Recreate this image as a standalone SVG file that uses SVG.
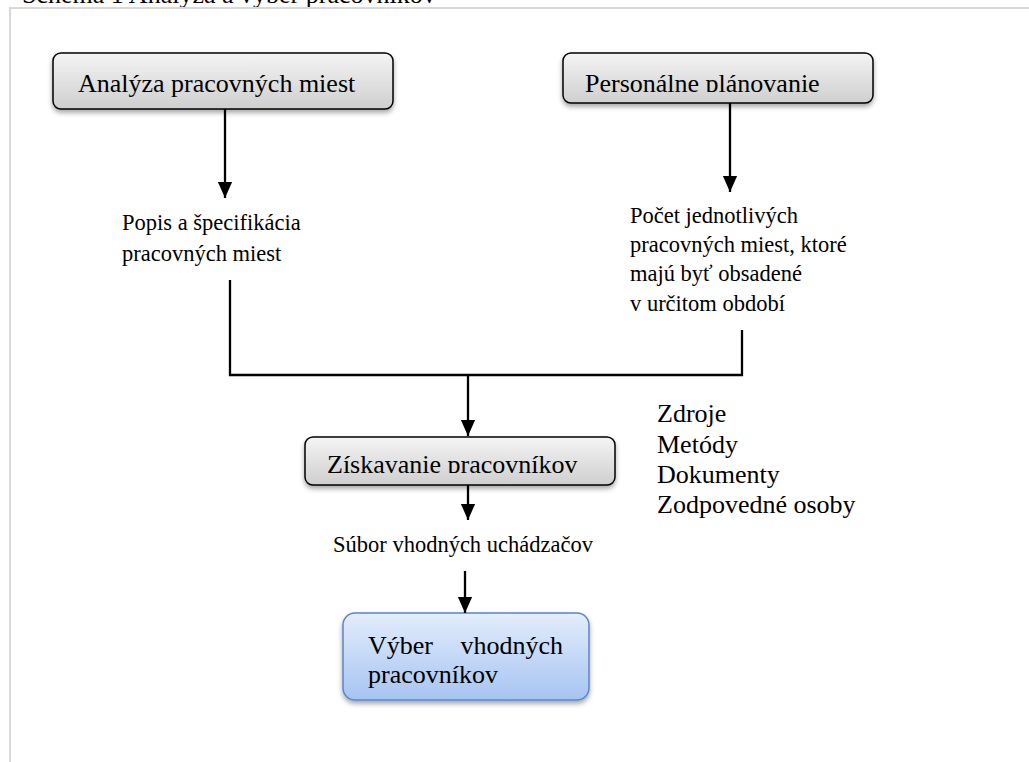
<svg xmlns="http://www.w3.org/2000/svg" width="1029" height="762" viewBox="0 0 1029 762" font-family="'Liberation Serif', 'Times New Roman', 'DejaVu Serif', serif">
<defs>
<linearGradient id="gGray" x1="0" y1="0" x2="0" y2="1">
<stop offset="0" stop-color="#f4f4f4"/>
<stop offset="1" stop-color="#cfcfcf"/>
</linearGradient>
<linearGradient id="gBlue" x1="0" y1="0" x2="0" y2="1">
<stop offset="0" stop-color="#e3edfc"/>
<stop offset="1" stop-color="#a6c4f2"/>
</linearGradient>
<filter id="sh" x="-10%" y="-20%" width="120%" height="160%">
<feDropShadow dx="0" dy="3" stdDeviation="2.5" flood-color="#000" flood-opacity="0.35"/>
</filter>
<marker id="ah" markerWidth="16" markerHeight="18" viewBox="0 0 18 16" refX="18" refY="8" orient="auto" markerUnits="userSpaceOnUse">
<path d="M0,0 L18,8 L0,16 z" fill="#000"/>
</marker>
<clipPath id="c2"><rect x="563" y="53" width="310" height="39"/></clipPath>
<clipPath id="c3"><rect x="305" y="437" width="310" height="36"/></clipPath>
</defs>
<style>
text{fill:#000}
.box{stroke:#000;stroke-width:1.5}
.big{font-size:26px}
.sm{font-size:22.5px}
.conn line,.conn polyline{stroke:#000;stroke-width:2.3;fill:none}
</style>
<rect x="0" y="0" width="1029" height="762" fill="#fff"/>
<text x="22" y="3" font-size="26">Schéma 1 Analýza a výber pracovníkov</text>
<path d="M10,762 V8 H1029" fill="none" stroke="#d9d9d9" stroke-width="2"/>

<g id="n1">
<rect class="box" x="53" y="53" width="340" height="56" rx="8" fill="url(#gGray)" filter="url(#sh)"/>
<text class="big" x="78" y="92">Analýza pracovných miest</text>
</g>
<g id="n2">
<rect class="box" x="563" y="53" width="310" height="50" rx="8" fill="url(#gGray)" filter="url(#sh)"/>
<text class="big" x="585" y="92" clip-path="url(#c2)">Personálne plánovanie</text>
</g>
<g id="t1">
<text class="sm" x="122" y="230">Popis a špecifikácia</text>
<text class="sm" x="122" y="261">pracovných miest</text>
</g>
<g id="t2">
<text class="sm" x="630" y="223">Počet jednotlivých</text>
<text class="sm" x="630" y="252">pracovných miest, ktoré</text>
<text class="sm" x="630" y="281">majú byť obsadené</text>
<text class="sm" x="630" y="311">v určitom období</text>
</g>
<g id="n3">
<rect class="box" x="305" y="437" width="310" height="48" rx="8" fill="url(#gGray)" filter="url(#sh)"/>
<text class="big" x="327" y="473" clip-path="url(#c3)">Získavanie pracovníkov</text>
</g>
<g id="t3">
<text class="sm" x="333" y="552">Súbor vhodných uchádzačov</text>
</g>
<g id="n4">
<rect x="343" y="613" width="246" height="87" rx="12" fill="url(#gBlue)" stroke="#5b86c5" stroke-width="1.5" filter="url(#sh)"/>
<text class="big" x="368" y="654">Výber</text>
<text class="big" x="563" y="654" text-anchor="end">vhodných</text>
<text class="big" x="368" y="683">pracovníkov</text>
</g>
<g id="t4" font-size="26">
<text x="657" y="422">Zdroje</text>
<text x="657" y="453">Metódy</text>
<text x="657" y="483">Dokumenty</text>
<text x="657" y="513">Zodpovedné osoby</text>
</g>
<g class="conn" id="connectors">
<line x1="225" y1="109" x2="225" y2="198" marker-end="url(#ah)"/>
<line x1="730" y1="103" x2="730" y2="192" marker-end="url(#ah)"/>
<polyline points="230,280 230,375 742,375 742,330"/>
<line x1="468" y1="375" x2="468" y2="436" marker-end="url(#ah)"/>
<line x1="468" y1="485" x2="468" y2="520" marker-end="url(#ah)"/>
<line x1="465" y1="571" x2="465" y2="613" marker-end="url(#ah)"/>
</g>
</svg>
